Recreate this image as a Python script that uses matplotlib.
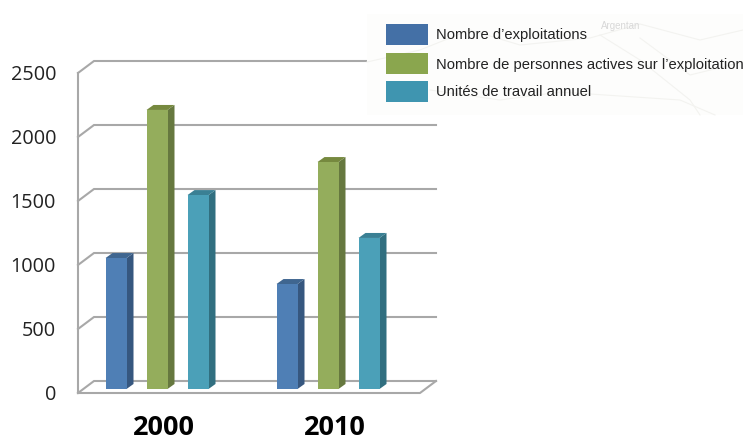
import numpy as np
import matplotlib
matplotlib.use("Agg")
import matplotlib.pyplot as plt
from matplotlib.patches import Polygon, Rectangle

years = ["2000", "2010"]
series_names = ["Nombre d\u2019exploitations",
                "Nombre de personnes actives sur l\u2019exploitation",
                "Unit\u00e9s de travail annuel"]
exploitations = [1023, 820]
personnes = [2180, 1773]
unites = [1515, 1180]
y_ticks = [0, 500, 1000, 1500, 2000, 2500]

front_colors = ["#4f7fb5", "#94ad5c", "#4ba0b8"]
side_colors = ["#36577f", "#66783f", "#316f80"]
top_colors = ["#3f6690", "#76893f", "#3a8094"]
key_colors = ["#4470a6", "#8aa64e", "#3f95b0"]

W, H = 743, 442
fig = plt.figure(figsize=(W / 100, H / 100), dpi=100)
ax = fig.add_axes([0, 0, 1, 1])

# one group = 171 px, 500 units = 64 px, value 0 of the bars sits at pixel row 389
px_x = 1 / 171
px_y = 500 / 64
ax.set_xlim(-157 * px_x, (W - 157) * px_x)
ax.set_ylim((389 - H) * px_y, 389 * px_y)
ax.axis("off")

grey = "#a8a8a8"
wall_dx, wall_dy = 16 * px_x, 12 * px_y
x_left = -79 * px_x
x_right = 263 * px_x
base = -4 * px_y

# walls and gridlines
for v in y_ticks:
    y = v + base
    xs = [x_left, x_left + wall_dx, x_right + wall_dx]
    ys = [y, y + wall_dy, y + wall_dy]
    ax.plot(xs, ys, color=grey, lw=1.5, solid_joinstyle="miter", zorder=1)
ax.plot([x_left, x_left], [base, 2500 + base], color=grey, lw=1.5, zorder=1)
ax.plot([x_left, x_right, x_right + wall_dx], [base, base, base + wall_dy],
        color=grey, lw=1.5, zorder=1)

bar_w = 21 * px_x
step = 41 * px_x
dep_x, dep_y = 7 * px_x, 5 * px_y

for s, vals in enumerate([exploitations, personnes, unites]):
    for g, v in enumerate(vals):
        x0 = g + (s - 1) * step - bar_w / 2
        x1 = x0 + bar_w
        ax.add_patch(Polygon([(x1, 0), (x1 + dep_x, dep_y), (x1 + dep_x, v + dep_y), (x1, v)],
                             color=side_colors[s], lw=0, zorder=3))
        ax.add_patch(Polygon([(x0, v), (x1, v), (x1 + dep_x, v + dep_y), (x0 + dep_x, v + dep_y)],
                             color=top_colors[s], lw=0, zorder=3))
        ax.add_patch(Rectangle((x0, 0), bar_w, v, color=front_colors[s], lw=0, zorder=3))

for v in y_ticks:
    ax.text(-101 * px_x, v + base - 1.5 * px_y, str(v), ha="right", va="center",
            family="Open Sans", fontsize=14.3, color="#222222")
for g, yr in enumerate(years):
    ax.text(g + 7 * px_x, -39 * px_y, yr, ha="center", va="center",
            family="Open Sans", fontsize=19.5, fontweight="bold", color="black")

# legend block over a faint map, pixel coordinates
ov = fig.add_axes([0, 0, 1, 1])
ov.set_xlim(0, W)
ov.set_ylim(H, 0)
ov.axis("off")
ov.patch.set_alpha(0)
ov.add_patch(Rectangle((367, 14), 376, 101, color="#fdfdfc", lw=0, zorder=1))
map_lines = [([367, 420, 470, 520, 590, 640, 700, 743], [62, 50, 30, 45, 38, 24, 40, 30]),
             ([600, 640, 665, 690, 700], [35, 60, 80, 100, 115]),
             ([430, 500, 560, 620, 680, 715], [90, 100, 92, 96, 100, 115]),
             ([640, 690, 743], [38, 75, 62])]
for mx, my in map_lines:
    ov.plot(mx, my, color="#f3f3f0", lw=0.8, zorder=2)
ov.text(601, 26, "Argentan", fontsize=7, color="#d8d8d8", family="Liberation Sans",
        ha="left", va="center", zorder=2)
for name, col, y in zip(series_names, key_colors, [24, 53, 81]):
    ov.add_patch(Rectangle((386, y), 42, 21, color=col, lw=0, zorder=3))
    ov.text(436, y + 11.5, name, fontsize=10.6, family="Liberation Sans", color="#222222",
            ha="left", va="center", zorder=4)

fig.savefig("out.png", dpi=100)
